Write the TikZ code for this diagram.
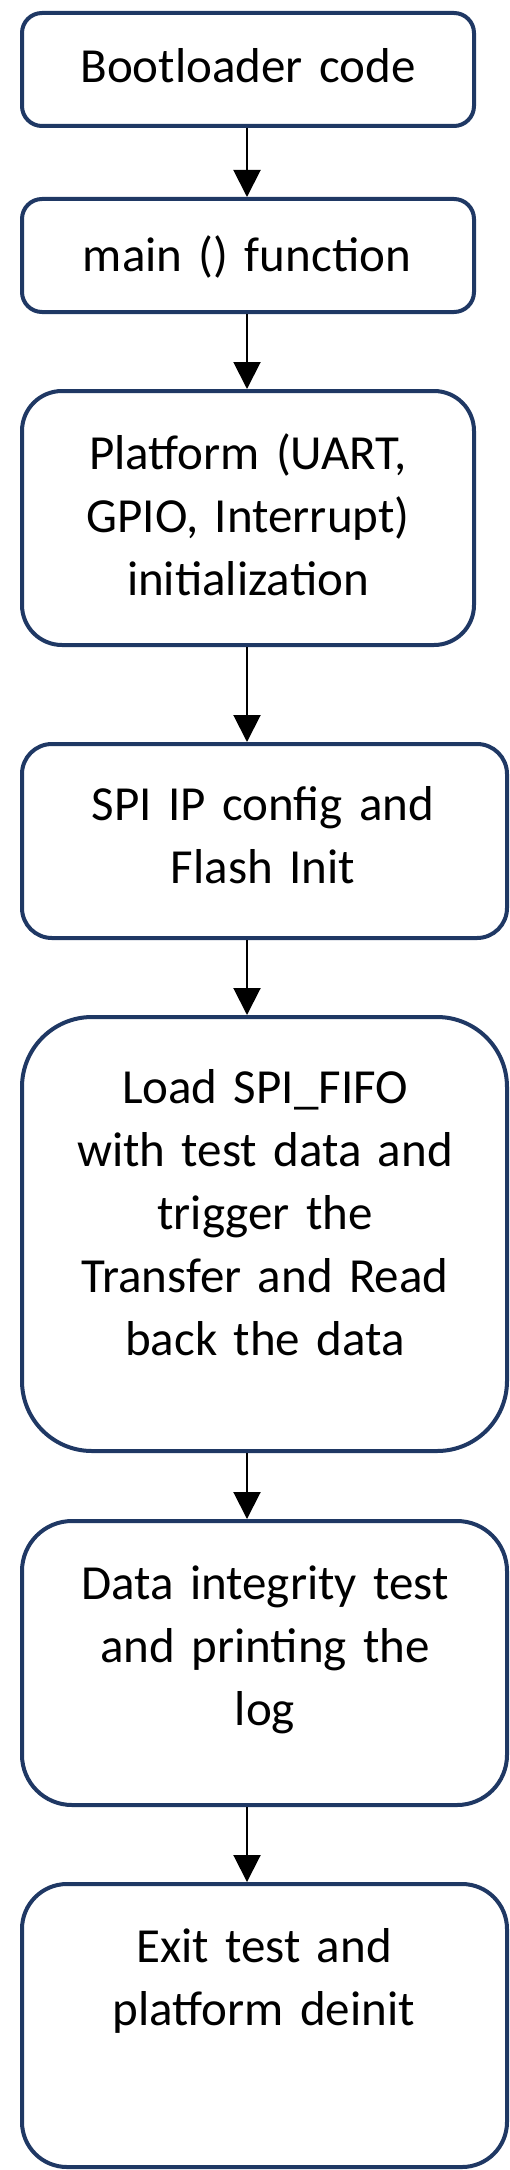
\documentclass[tikz,border=0pt]{standalone}
\usepackage{fontspec}
\setmainfont{Carlito}
\usetikzlibrary{arrows.meta}
\definecolor{boxnavy}{HTML}{1F3864}

\tikzset{
  stage/.style={rectangle, draw=boxnavy, line width=4pt, inner sep=0pt, fill=white},
  stagetext/.style={anchor=base, text width=470pt, align=center, inner sep=0pt,
                    font=\fontsize{49}{63}\selectfont},
  flow/.style={-{Triangle[width=27pt,length=27pt]}, line width=2pt, black},
}

\begin{document}
\begin{tikzpicture}[x=1pt, y=-1pt]
  \useasboundingbox (0,0) rectangle (510,2170);
  \coordinate (axis) at (247,0);

  % boxes
  \node[stage, rounded corners=20pt, minimum width=452pt, minimum height=113pt] (boot) at (248,69.5) {};
  \node[stage, rounded corners=20pt, minimum width=452pt, minimum height=113pt] (main) at (248,255.5) {};
  \node[stage, rounded corners=40pt, minimum width=452pt, minimum height=254pt] (platform) at (248,518) {};
  \node[stage, rounded corners=30pt, minimum width=485pt, minimum height=194pt] (spi) at (264.5,841) {};
  \node[stage, rounded corners=70pt, minimum width=485pt, minimum height=434pt] (fifo) at (264.5,1234) {};
  \node[stage, rounded corners=50pt, minimum width=485pt, minimum height=284pt] (check) at (264.5,1663) {};
  \node[stage, rounded corners=45pt, minimum width=485pt, minimum height=283pt] (exit) at (264.5,2025.5) {};

  % texts
  \node[stagetext] (boottxt) at (248,83) {Bootloader code};
  \node[stagetext] (maintxt) at (247,271) {main () function};
  \node[stagetext] (platformtxt) at (248,469) {Platform (UART,\\GPIO, Interrupt)\\initialization};
  \node[stagetext] (spitxt) at (263,820) {SPI IP config and\\Flash Init};
  \node[stagetext] (fifotxt) at (265,1103) {Load SPI\_FIFO\\with test data and\\trigger the\\Transfer and Read\\back the data};
  \node[stagetext] (checktxt) at (265,1599) {Data integrity test\\and printing the\\log};
  \node[stagetext] (exittxt) at (264,1962) {Exit test and\\platform deinit};

  % arrows
  \draw[flow] (boot.south -| axis) -- (main.north -| axis);
  \draw[flow] (main.south -| axis) -- (platform.north -| axis);
  \draw[flow] (platform.south -| axis) -- (spi.north -| axis);
  \draw[flow] (spi.south -| axis) -- (fifo.north -| axis);
  \draw[flow] (fifo.south -| axis) -- (check.north -| axis);
  \draw[flow] (check.south -| axis) -- (exit.north -| axis);
\end{tikzpicture}
\end{document}
